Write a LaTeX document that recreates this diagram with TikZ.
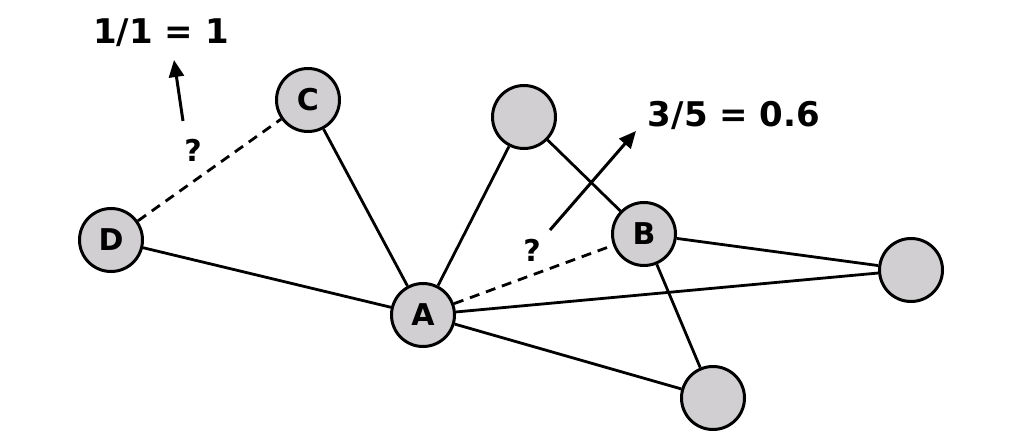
\documentclass[tikz,border=0pt]{standalone}
\usepackage{fontspec}
\setmainfont{DejaVu Sans}
\usetikzlibrary{arrows.meta}
\definecolor{nodegray}{HTML}{D1CFD1}
\begin{document}
\begin{tikzpicture}[x=1pt,y=-1pt,
  vert/.style={circle,draw=black,line width=3pt,fill=nodegray,minimum size=63pt,inner sep=0pt,font=\bfseries\fontsize{30}{30}\selectfont},
  edge/.style={line width=2.8pt},
  dedge/.style={line width=2.8pt,dash pattern=on 10pt off 7pt},
  lbl/.style={font=\bfseries\fontsize{34}{34}\selectfont,inner sep=0pt},
  qm/.style={font=\bfseries\fontsize{30}{30}\selectfont,inner sep=0pt},
  arr/.style={line width=3pt,-{Triangle[length=17pt,width=15pt]}}]
\useasboundingbox (0,0) rectangle (1024,446);
\node[vert] (C) at (308,100) {C};
\node[vert] (D) at (111,240) {D};
\node[vert] (A) at (423,315) {A};
\node[vert] (E) at (524,117) {};
\node[vert] (B) at (644,234) {B};
\node[vert] (F) at (911,270) {};
\node[vert] (G) at (713,398) {};
\draw[edge] (D) -- (A);
\draw[edge] (C) -- (A);
\draw[edge] (E) -- (A);
\draw[edge] (E) -- (B);
\draw[edge] (B) -- (F);
\draw[edge] (A) -- (F);
\draw[edge] (A) -- (G);
\draw[edge] (B) -- (G);
\draw[dedge] (D) -- (C);
\draw[dedge] (A) -- (B);
\node[lbl] (L1) at (161,33) {1/1 = 1};
\node[lbl] (L2) at (734,115) {3/5 = 0.6};
\node[qm] (Q1) at (193,150) {?};
\node[qm] (Q2) at (532,250) {?};
\coordinate (a1s) at (183,121);
\coordinate (a1e) at (174,60);
\coordinate (a2s) at (550,230);
\coordinate (a2e) at (636,131);
\draw[arr] (a1s) -- (a1e);
\draw[arr] (a2s) -- (a2e);
\end{tikzpicture}
\end{document}
